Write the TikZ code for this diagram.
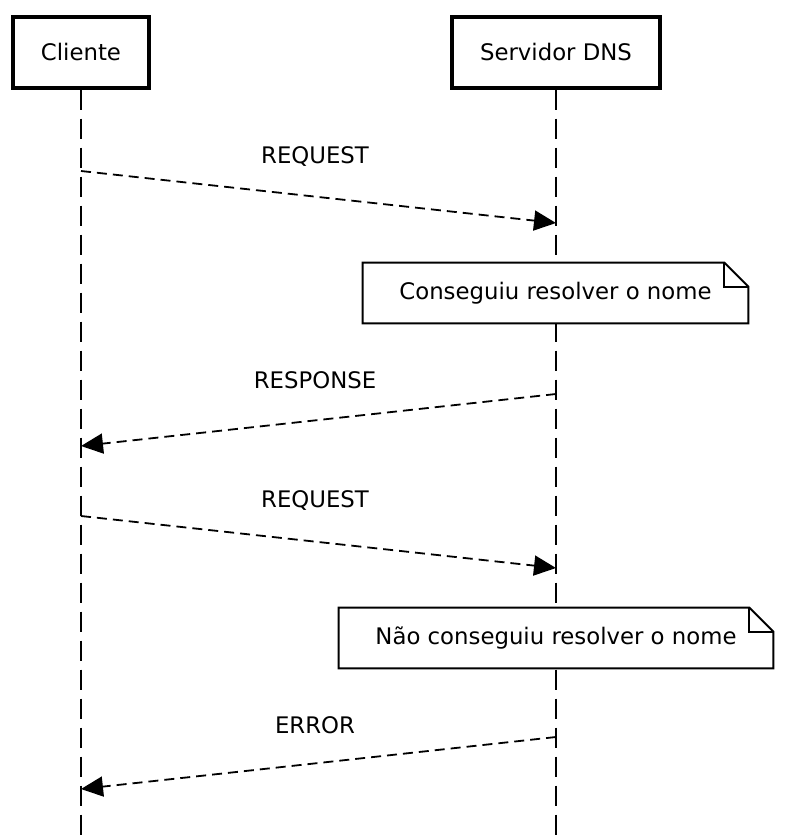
\documentclass[tikz,border=0pt]{standalone}
\usepackage{fontspec}
\setmainfont{DejaVu Sans}
\usetikzlibrary{arrows.meta,calc}

\tikzset{
  actor/.style={draw, line width=1.7pt, minimum width=68pt, minimum height=35.5pt, inner sep=0pt},
  lifeline/.style={line width=0.9pt, dash pattern=on 10pt off 4.5pt},
  message/.style={line width=0.9pt, dash pattern=on 5pt off 3pt, -{Triangle[length=11pt,width=10pt]}},
  notebox/.style={fill=white, minimum height=30pt, inner sep=0pt},
}

\begin{document}
\begin{tikzpicture}[x=0.5pt, y=-0.5pt, font=\fontsize{11.4}{13}\selectfont]
\useasboundingbox (0,0) rectangle (786,840);

% Actors
\node[actor] (cliente) at (81,52.5) {Cliente};
\node[actor, minimum width=104pt] (servidor) at (556,52.5) {Servidor DNS};

% Lifelines
\coordinate (cliente end) at (81,838);
\coordinate (servidor end) at (556,838);
\draw[lifeline] (cliente.south) -- (cliente end);
\draw[lifeline] (servidor.south) -- (servidor end);

% Message points
\coordinate (req1 from) at (81,171);
\coordinate (req1 to) at (556,223);
\coordinate (resp from) at (556,394);
\coordinate (resp to) at (81,446);
\coordinate (req2 from) at (81,516);
\coordinate (req2 to) at (556,568);
\coordinate (err from) at (556,737);
\coordinate (err to) at (81,789);

% Messages
\draw[message] (req1 from) -- (req1 to);
\node (req1 label) at (315,157) {REQUEST};
\draw[message] (resp from) -- (resp to);
\node (resp label) at (315,380) {RESPONSE};
\draw[message] (req2 from) -- (req2 to);
\node (req2 label) at (315,501) {REQUEST};
\draw[message] (err from) -- (err to);
\node (err label) at (315,725) {ERROR};

% Notes
\node[notebox, minimum width=192.5pt] (note1) at (555.5,293) {Conseguiu resolver o nome};
\node[notebox, minimum width=217pt] (note2) at (556,638) {Não conseguiu resolver o nome};
\foreach \n in {note1,note2} {
  \draw[line width=1pt, line join=miter]
    (\n.north west) -- ($(\n.north east)+(-24,0)$) -- ($(\n.north east)+(0,24)$)
    -- (\n.south east) -- (\n.south west) -- cycle;
  \draw[line width=1pt]
    ($(\n.north east)+(-24,0)$) -- ($(\n.north east)+(-24,24)$) -- ($(\n.north east)+(0,24)$);
}

\end{tikzpicture}
\end{document}
